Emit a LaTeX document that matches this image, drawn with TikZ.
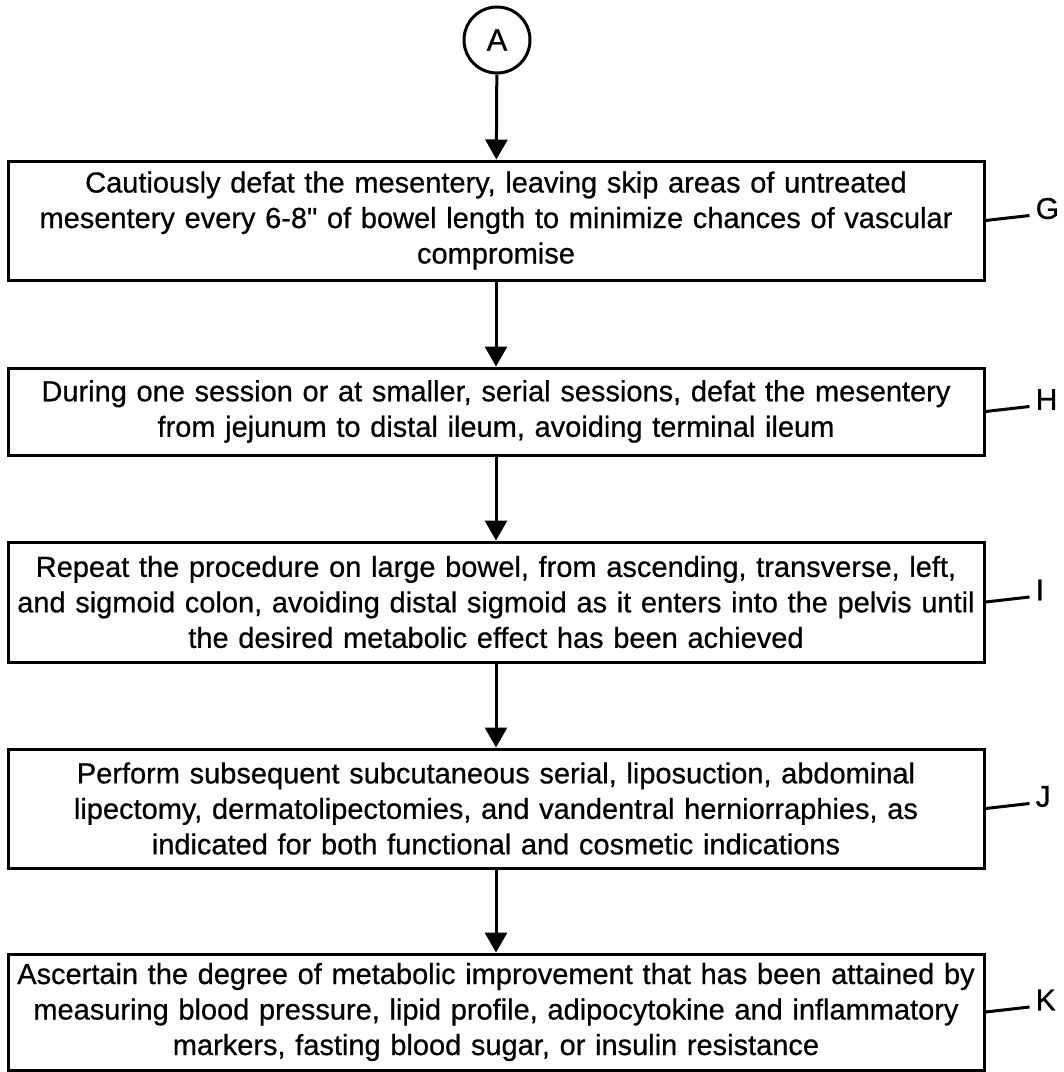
\documentclass[tikz,border=0pt]{standalone}
\usepackage{fontspec}
\setmainfont{Liberation Sans}
\newfontfamily\heavyfont{Liberation Sans}[FakeBold=0.6]
\usetikzlibrary{arrows.meta}
\begin{document}
\begin{tikzpicture}[x=1pt,y=-1pt,
  stepbox/.style={draw,line width=3pt,text width=976pt,inner xsep=0pt,inner ysep=0pt,align=center,
    font=\heavyfont\fontsize{29}{35.5}\selectfont},
  flow/.style={line width=3pt,-{Triangle[width=22pt,length=20pt]}},
  tag/.style={font=\heavyfont\fontsize{30}{32}\selectfont,inner sep=0pt},
  tagline/.style={line width=3pt}]
\useasboundingbox (0,0) rectangle (1064,1072);
\node[circle,draw,line width=3pt,minimum size=66pt,inner sep=0pt,font=\heavyfont\fontsize{31}{32}\selectfont] (A) at (497,40) {A};
\node[stepbox,minimum height=119pt] (G) at (496,220.5) {Cautiously defat the mesentery, leaving skip areas of untreated\\mesentery every 6-8\textquotedbl{} of bowel length to minimize chances of vascular\\compromise};
\node[stepbox,minimum height=87pt] (H) at (496,411.5) {During one session or at smaller, serial sessions, defat the mesentery\\from jejunum to distal ileum, avoiding terminal ileum};
\node[stepbox,minimum height=120pt] (I) at (496,602) {Repeat the procedure on large bowel, from ascending, transverse, left,\\and sigmoid colon, avoiding distal sigmoid as it enters into the pelvis until\\the desired metabolic effect has been achieved};
\node[stepbox,minimum height=119pt] (J) at (496,808.5) {Perform subsequent subcutaneous serial, liposuction, abdominal\\lipectomy, dermatolipectomies, and vandentral herniorraphies, as\\indicated for both functional and cosmetic indications};
\node[stepbox,minimum height=116pt] (K) at (496,1012) {Ascertain the degree of metabolic improvement that has been attained by\\measuring blood pressure, lipid profile, adipocytokine and inflammatory\\markers, fasting blood sugar, or insulin resistance};
\draw[flow] (A) -- (G);
\draw[flow] (G) -- (H);
\draw[flow] (H) -- (I);
\draw[flow] (I) -- (J);
\draw[flow] (J) -- (K);
\foreach \n in {G,H,I,J,K}{
  \node[tag,anchor=west] (t\n) at ([xshift=50pt,yshift=12pt]\n.east) {\n};
  \coordinate (c\n) at ([xshift=44pt,yshift=5pt]\n.east);
  \draw[tagline] (\n.east) -- (c\n);
}
\end{tikzpicture}
\end{document}
